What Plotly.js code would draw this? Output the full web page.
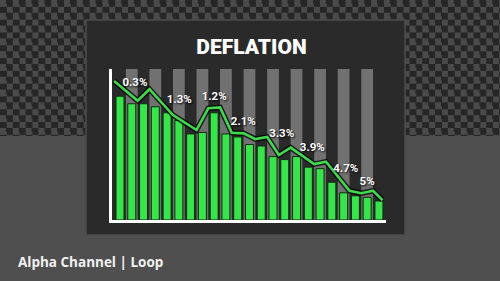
<!DOCTYPE html>
<html>
<head>
<meta charset="utf-8">
<script src="https://cdn.plot.ly/plotly-3.0.1.min.js"></script>
<style>
  html, body { margin: 0; padding: 0; background: #4f4f4f; }
  #wrap { position: relative; width: 500px; height: 281px; background: #4f4f4f; overflow: hidden; }
  #checker { position: absolute; left: 0; top: 0; width: 500px; height: 136px;
    background: repeating-conic-gradient(#262626 0 25%, #4a4a4a 0 50%) 0 0 / 12.8px 12.8px; }
  #chart { position: absolute; left: 0; top: 0; width: 500px; height: 281px; }
</style>
</head>
<body>
<div id="wrap"><div id="checker"></div><div id="chart"></div></div>
<script>
// ---- data ----
const barX = [1,2,3,4,5,6,7,8,9,10,11,12,13,14,15,16,17,18,19,20,21,22,23];
const barValues = [82,77,77,75,71,66,57,58,71,57,55,50,49,42,40,42,35,34,25,18,16,15,12.6];
const columnX = [2,4,6,8,10,12,14,16,18,20,22];
const columnValues = [100,100,100,100,100,100,100,100,100,100,100];
const trendX = [0.5,2.5,3.5,5.5,7.5,8.5,9.5,10.5,11.5,12.5,13.5,14.5,15.5,17.5,18.5,20.5,21.5,22.5,23.3];
const trendValues = [92,79,86.6,69.5,59.6,74,74.6,57.8,57.4,53.6,55,43,47.9,37,38.6,19.4,17.7,19.4,13.2];
const labelX = [2.27,6.04,9.0,11.48,14.74,17.34,20.18,22.0];
const labelValues = [90.7,79.5,81.3,65.1,57,47.9,33.6,25.4];
const labelTexts = ["0.3%","1.3%","1.2%","2.1%","3.3%","3.9%","4.7%","5%"];
const chartTitle = "DEFLATION";
const footerText = "Alpha Channel | Loop";

const traces = [
  { type: 'bar', x: columnX, y: columnValues, width: 1.0,
    marker: { color: '#717171', line: { width: 0 } }, hoverinfo: 'skip' },
  { type: 'bar', x: barX, y: barValues, width: 0.68,
    marker: { color: '#34e648', line: { color: '#0e2a10', width: 1 } }, hoverinfo: 'skip' },
  { type: 'scatter', mode: 'lines', x: trendX, y: trendValues,
    line: { color: 'rgba(0,0,0,0.75)', width: 5.5 }, hoverinfo: 'skip' },
  { type: 'scatter', mode: 'lines', x: trendX, y: trendValues,
    line: { color: '#3fd94c', width: 2.6 }, hoverinfo: 'skip' },
  { type: 'scatter', mode: 'text', x: labelX, y: labelValues, text: labelTexts,
    textposition: 'middle center', cliponaxis: false,
    textfont: { family: 'Roboto, sans-serif', size: 11.5,
      weight: 700, color: '#ffffff', shadow: '1px 1px 2px #000000' }, hoverinfo: 'skip' }
];

const layout = {
  width: 500, height: 281,
  margin: { l: 0, r: 0, t: 0, b: 0 },
  paper_bgcolor: 'rgba(0,0,0,0)',
  plot_bgcolor: 'rgba(0,0,0,0)',
  showlegend: false,
  barmode: 'overlay',
  title: { text: chartTitle, x: 0.503, xref: 'paper', xanchor: 'center',
    y: 0.834, yref: 'paper', yanchor: 'middle',
    font: { family: 'Roboto, Inter, sans-serif', size: 21, weight: 900, color: '#ffffff' } },
  xaxis: { domain: [0.224, 0.772], range: [0.32, 23.6], showgrid: false, zeroline: false,
    showticklabels: false, ticks: '', showline: true, linecolor: '#ffffff', linewidth: 3, fixedrange: true },
  yaxis: { domain: [0.2171, 0.7544], range: [0, 100], showgrid: false, zeroline: false,
    showticklabels: false, ticks: '', showline: true, linecolor: '#ffffff', linewidth: 3, fixedrange: true },
  shapes: [
    { type: 'rect', xref: 'paper', yref: 'paper', x0: 0.172, x1: 0.81, y0: 0.1637, y1: 0.9288,
      fillcolor: '#2a2a2a', line: { color: '#4c4c4c', width: 1.5 }, layer: 'below' }
  ],
  annotations: [
    { text: footerText, xref: 'paper', yref: 'paper', x: 0.032, y: 0.0676,
      xanchor: 'left', yanchor: 'middle', showarrow: false,
      font: { family: 'Open Sans, sans-serif', size: 13.5, weight: 700, color: '#f2f2f2' } }
  ]
};

Plotly.newPlot('chart', traces, layout, { staticPlot: true, displayModeBar: false });
</script>
</body>
</html>
